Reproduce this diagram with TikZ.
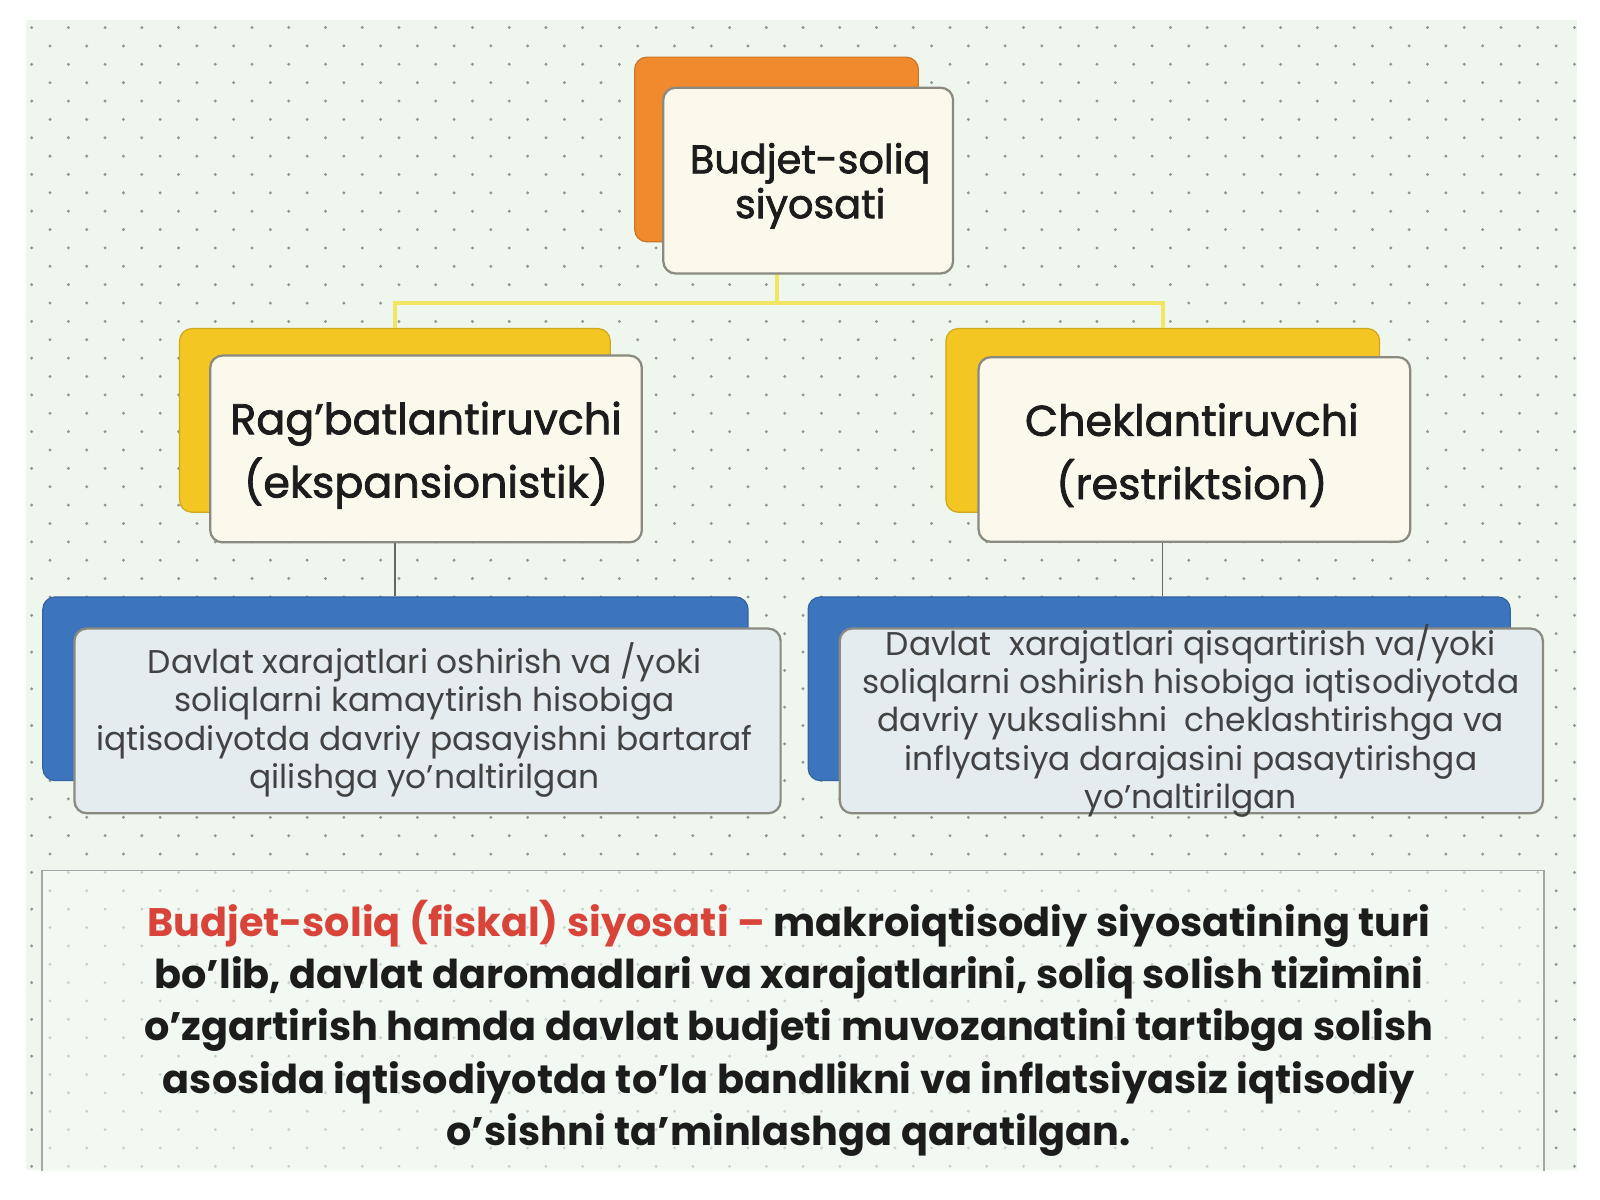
\documentclass[tikz,border=0pt]{standalone}
\usepackage{fontspec}
\setmainfont{Poppins}
\newfontfamily\boldish[FakeBold=1.8]{Poppins}
\definecolor{panel}{HTML}{EEF6EE}
\definecolor{dotc}{HTML}{8E9892}
\definecolor{orangeb}{HTML}{F08A2C}
\definecolor{yellowb}{HTML}{F4C623}
\definecolor{blueb}{HTML}{3D74BE}
\definecolor{cream}{HTML}{FAF9EC}
\definecolor{bluef}{HTML}{E4ECF0}
\definecolor{frame}{HTML}{8A8A80}
\definecolor{busc}{HTML}{F1E664}
\definecolor{redt}{HTML}{D9443A}
\definecolor{txt}{HTML}{1C1C1C}
\definecolor{gtxt}{HTML}{424242}
\tikzset{
  backbox/.style={rectangle, rounded corners=6pt, fill=#1, draw=#1!85!black, line width=0.6pt, inner sep=0pt},
  frontbox/.style={rectangle, rounded corners=6pt, fill=#1, draw=frame, line width=1.1pt, inner sep=0pt},
  yline/.style={draw=busc, line width=2pt},
  gline/.style={draw=gray!80!black, line width=0.7pt},
  bottombox/.style={rectangle, fill=panel!60!white, fill opacity=0.6, draw=gray!70, line width=0.8pt, inner sep=0pt},
  toptext/.style={font=\boldish\fontsize{19.5}{22}\selectfont, text=txt, align=center},
  midtext/.style={font=\boldish\fontsize{21}{31}\selectfont, text=txt, align=center},
  smalltext/.style={font=\fontsize{16.1}{18.7}\selectfont, text=gtxt, align=center},
  deftext/.style={font=\bfseries\fontsize{19.5}{25.6}\selectfont, text=txt, align=center}
}
\begin{document}
\begin{tikzpicture}[x=0.5pt,y=-0.5pt]
\useasboundingbox (0,0) rectangle (1568,1176);
\fill[white] (0,0) rectangle (1568,1176);
\fill[panel] (25,20) rectangle (1545,1147);
\begin{scope}
  \clip (25,20) rectangle (1545,1147);
  \foreach \i in {0,...,42} {
    \foreach \j in {0,...,31} {
      \fill[dotc] (31+36*\i,27+36*\j) circle[radius=0.8pt];
      \fill[dotc] (49+36*\i,45+36*\j) circle[radius=0.8pt];
    }
  }
  \node[bottombox, minimum width=736pt, minimum height=158.5pt] (defbox) at (777,1011.5) {};
\end{scope}

% back boxes
\node[backbox=orangeb, minimum width=139pt, minimum height=90.5pt] (topback) at (761,146.5) {};
\node[backbox=yellowb, minimum width=211pt, minimum height=90pt] (lback) at (387,412) {};
\node[backbox=yellowb, minimum width=212.5pt, minimum height=90pt] (rback) at (1139.5,412) {};
\node[backbox=blueb, minimum width=345.5pt, minimum height=90pt] (lbblue) at (387.5,675) {};
\node[backbox=blueb, minimum width=344pt, minimum height=90pt] (rbblue) at (1136,675) {};

% connectors
\draw[yline] (topback.south) -- ++(0,59) -| (lback.north);
\draw[yline] (topback.south) -- ++(0,59) -| (rback.north);
\draw[gline] (lback.south) -- (lback.south |- lbblue.north);
\draw[gline] (rback.south) -- (rback.south |- rbblue.north);

% front boxes
\node[frontbox=cream, minimum width=142pt, minimum height=91pt] (top) at (792,177) {};
\node[frontbox=cream, minimum width=211.5pt, minimum height=91.5pt] (lfront) at (417.5,440) {};
\node[frontbox=cream, minimum width=211.5pt, minimum height=90.5pt] (rfront) at (1170.5,440.5) {};
\node[frontbox=bluef, minimum width=346pt, minimum height=90.5pt] (lfblue) at (419,706.5) {};
\node[frontbox=bluef, minimum width=344.5pt, minimum height=90.5pt] (rfblue) at (1167.5,706.5) {};

% texts
\node[toptext] (toptxt) at (794,182) {Budjet-soliq\\siyosati};
\node[midtext] (ltxt) at (417.5,446) {Rag’batlantiruvchi\\(ekspansionistik)};
\node[midtext] (rtxt) at (1168,446) {Cheklantiruvchi\\(restriktsion)};
\node[smalltext] (ltext) at (416,705.5) {Davlat xarajatlari oshirish va /yoki\\soliqlarni kamaytirish hisobiga\\iqtisodiyotda davriy pasayishni bartaraf\\qilishga yo’naltirilgan};
\node[smalltext] (rtext) at (1167,706.5) {Davlat\ \ xarajatlari qisqartirish va/yoki\\soliqlarni oshirish hisobiga iqtisodiyotda\\davriy yuksalishni\ \ cheklashtirishga va\\inflyatsiya darajasini pasaytirishga\\yo’naltirilgan};

\node[deftext] (deftxt) at (773,1007.5) {\textcolor{redt}{Budjet-soliq (fiskal) siyosati –} makroiqtisodiy siyosatining turi\\bo’lib, davlat daromadlari va xarajatlarini, soliq solish tizimini\\o’zgartirish hamda davlat budjeti muvozanatini tartibga solish\\asosida iqtisodiyotda to’la bandlikni va inflatsiyasiz iqtisodiy\\o’sishni ta’minlashga qaratilgan.};
\end{tikzpicture}
\end{document}
